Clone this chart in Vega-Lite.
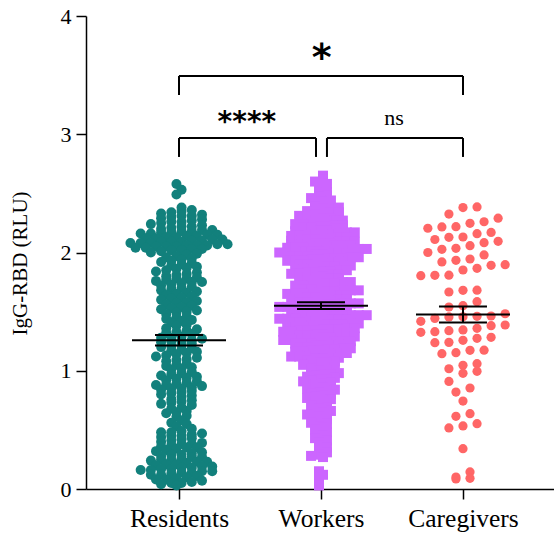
{
"$schema":"https://vega.github.io/schema/vega-lite/v6.json",
"width":468,"height":473,
"autosize":{"type":"none"},
"padding":{"left":86,"top":16,"right":0,"bottom":47},
"background":"white",
"datasets":{
"points":[
{"group":"Residents","value":2.58},{"group":"Residents","value":2.53},{"group":"Residents","value":2.49},
{"group":"Residents","value":2.38},{"group":"Residents","value":2.36},{"group":"Residents","value":2.35},{"group":"Residents","value":2.34},{"group":"Residents","value":2.33},{"group":"Residents","value":2.32},{"group":"Residents","value":2.31},{"group":"Residents","value":2.31},{"group":"Residents","value":2.30},
{"group":"Residents","value":2.29},{"group":"Residents","value":2.28},{"group":"Residents","value":2.27},{"group":"Residents","value":2.26},{"group":"Residents","value":2.26},{"group":"Residents","value":2.25},{"group":"Residents","value":2.24},{"group":"Residents","value":2.23},{"group":"Residents","value":2.22},{"group":"Residents","value":2.22},{"group":"Residents","value":2.21},{"group":"Residents","value":2.20},
{"group":"Residents","value":2.19},{"group":"Residents","value":2.19},{"group":"Residents","value":2.18},{"group":"Residents","value":2.18},{"group":"Residents","value":2.17},{"group":"Residents","value":2.17},{"group":"Residents","value":2.16},{"group":"Residents","value":2.16},{"group":"Residents","value":2.15},{"group":"Residents","value":2.15},{"group":"Residents","value":2.14},{"group":"Residents","value":2.14},{"group":"Residents","value":2.13},{"group":"Residents","value":2.13},{"group":"Residents","value":2.12},{"group":"Residents","value":2.12},{"group":"Residents","value":2.11},{"group":"Residents","value":2.11},{"group":"Residents","value":2.10},{"group":"Residents","value":2.10},
{"group":"Residents","value":2.09},{"group":"Residents","value":2.09},{"group":"Residents","value":2.09},{"group":"Residents","value":2.08},{"group":"Residents","value":2.08},{"group":"Residents","value":2.08},{"group":"Residents","value":2.07},{"group":"Residents","value":2.07},{"group":"Residents","value":2.06},{"group":"Residents","value":2.06},{"group":"Residents","value":2.06},{"group":"Residents","value":2.05},{"group":"Residents","value":2.05},{"group":"Residents","value":2.05},{"group":"Residents","value":2.04},{"group":"Residents","value":2.04},{"group":"Residents","value":2.03},{"group":"Residents","value":2.03},{"group":"Residents","value":2.02},{"group":"Residents","value":2.02},{"group":"Residents","value":2.01},{"group":"Residents","value":2.00},
{"group":"Residents","value":1.99},{"group":"Residents","value":1.98},{"group":"Residents","value":1.97},{"group":"Residents","value":1.96},{"group":"Residents","value":1.95},{"group":"Residents","value":1.94},{"group":"Residents","value":1.93},{"group":"Residents","value":1.92},{"group":"Residents","value":1.91},{"group":"Residents","value":1.90},
{"group":"Residents","value":1.89},{"group":"Residents","value":1.88},{"group":"Residents","value":1.87},{"group":"Residents","value":1.86},{"group":"Residents","value":1.85},{"group":"Residents","value":1.84},{"group":"Residents","value":1.83},{"group":"Residents","value":1.82},{"group":"Residents","value":1.81},{"group":"Residents","value":1.80},
{"group":"Residents","value":1.79},{"group":"Residents","value":1.78},{"group":"Residents","value":1.78},{"group":"Residents","value":1.77},{"group":"Residents","value":1.76},{"group":"Residents","value":1.75},{"group":"Residents","value":1.75},{"group":"Residents","value":1.74},{"group":"Residents","value":1.73},{"group":"Residents","value":1.72},{"group":"Residents","value":1.71},{"group":"Residents","value":1.70},
{"group":"Residents","value":1.69},{"group":"Residents","value":1.68},{"group":"Residents","value":1.67},{"group":"Residents","value":1.66},{"group":"Residents","value":1.65},{"group":"Residents","value":1.64},{"group":"Residents","value":1.63},{"group":"Residents","value":1.62},{"group":"Residents","value":1.61},{"group":"Residents","value":1.60},
{"group":"Residents","value":1.59},{"group":"Residents","value":1.58},{"group":"Residents","value":1.57},{"group":"Residents","value":1.56},{"group":"Residents","value":1.55},{"group":"Residents","value":1.54},{"group":"Residents","value":1.53},{"group":"Residents","value":1.52},{"group":"Residents","value":1.51},{"group":"Residents","value":1.50},
{"group":"Residents","value":1.49},{"group":"Residents","value":1.48},{"group":"Residents","value":1.46},{"group":"Residents","value":1.45},{"group":"Residents","value":1.44},{"group":"Residents","value":1.43},{"group":"Residents","value":1.42},{"group":"Residents","value":1.41},
{"group":"Residents","value":1.39},{"group":"Residents","value":1.38},{"group":"Residents","value":1.36},{"group":"Residents","value":1.35},{"group":"Residents","value":1.34},{"group":"Residents","value":1.33},{"group":"Residents","value":1.32},{"group":"Residents","value":1.31},
{"group":"Residents","value":1.29},{"group":"Residents","value":1.28},{"group":"Residents","value":1.28},{"group":"Residents","value":1.27},{"group":"Residents","value":1.26},{"group":"Residents","value":1.25},{"group":"Residents","value":1.25},{"group":"Residents","value":1.24},{"group":"Residents","value":1.23},{"group":"Residents","value":1.22},{"group":"Residents","value":1.21},{"group":"Residents","value":1.20},
{"group":"Residents","value":1.19},{"group":"Residents","value":1.18},{"group":"Residents","value":1.17},{"group":"Residents","value":1.16},{"group":"Residents","value":1.15},{"group":"Residents","value":1.14},{"group":"Residents","value":1.13},{"group":"Residents","value":1.12},{"group":"Residents","value":1.11},{"group":"Residents","value":1.10},
{"group":"Residents","value":1.09},{"group":"Residents","value":1.08},{"group":"Residents","value":1.06},{"group":"Residents","value":1.05},{"group":"Residents","value":1.04},{"group":"Residents","value":1.03},{"group":"Residents","value":1.02},{"group":"Residents","value":1.01},
{"group":"Residents","value":0.99},{"group":"Residents","value":0.98},{"group":"Residents","value":0.97},{"group":"Residents","value":0.96},{"group":"Residents","value":0.95},{"group":"Residents","value":0.94},{"group":"Residents","value":0.93},{"group":"Residents","value":0.92},{"group":"Residents","value":0.91},{"group":"Residents","value":0.90},
{"group":"Residents","value":0.89},{"group":"Residents","value":0.88},{"group":"Residents","value":0.88},{"group":"Residents","value":0.87},{"group":"Residents","value":0.86},{"group":"Residents","value":0.85},{"group":"Residents","value":0.85},{"group":"Residents","value":0.84},{"group":"Residents","value":0.83},{"group":"Residents","value":0.82},{"group":"Residents","value":0.81},{"group":"Residents","value":0.80},
{"group":"Residents","value":0.79},{"group":"Residents","value":0.78},{"group":"Residents","value":0.76},{"group":"Residents","value":0.75},{"group":"Residents","value":0.74},{"group":"Residents","value":0.73},{"group":"Residents","value":0.72},{"group":"Residents","value":0.71},
{"group":"Residents","value":0.69},{"group":"Residents","value":0.68},{"group":"Residents","value":0.66},{"group":"Residents","value":0.65},{"group":"Residents","value":0.64},{"group":"Residents","value":0.62},{"group":"Residents","value":0.61},
{"group":"Residents","value":0.58},{"group":"Residents","value":0.56},{"group":"Residents","value":0.55},{"group":"Residents","value":0.53},{"group":"Residents","value":0.51},
{"group":"Residents","value":0.49},{"group":"Residents","value":0.48},{"group":"Residents","value":0.48},{"group":"Residents","value":0.47},{"group":"Residents","value":0.46},{"group":"Residents","value":0.45},{"group":"Residents","value":0.45},{"group":"Residents","value":0.44},{"group":"Residents","value":0.43},{"group":"Residents","value":0.42},{"group":"Residents","value":0.41},{"group":"Residents","value":0.40},
{"group":"Residents","value":0.39},{"group":"Residents","value":0.38},{"group":"Residents","value":0.38},{"group":"Residents","value":0.37},{"group":"Residents","value":0.36},{"group":"Residents","value":0.35},{"group":"Residents","value":0.35},{"group":"Residents","value":0.34},{"group":"Residents","value":0.33},{"group":"Residents","value":0.32},{"group":"Residents","value":0.31},{"group":"Residents","value":0.30},
{"group":"Residents","value":0.29},{"group":"Residents","value":0.29},{"group":"Residents","value":0.28},{"group":"Residents","value":0.27},{"group":"Residents","value":0.27},{"group":"Residents","value":0.26},{"group":"Residents","value":0.25},{"group":"Residents","value":0.25},{"group":"Residents","value":0.24},{"group":"Residents","value":0.23},{"group":"Residents","value":0.23},{"group":"Residents","value":0.22},{"group":"Residents","value":0.21},{"group":"Residents","value":0.21},{"group":"Residents","value":0.20},
{"group":"Residents","value":0.19},{"group":"Residents","value":0.19},{"group":"Residents","value":0.18},{"group":"Residents","value":0.18},{"group":"Residents","value":0.17},{"group":"Residents","value":0.17},{"group":"Residents","value":0.16},{"group":"Residents","value":0.16},{"group":"Residents","value":0.15},{"group":"Residents","value":0.15},{"group":"Residents","value":0.14},{"group":"Residents","value":0.14},{"group":"Residents","value":0.13},{"group":"Residents","value":0.12},{"group":"Residents","value":0.12},{"group":"Residents","value":0.11},{"group":"Residents","value":0.10},
{"group":"Residents","value":0.09},{"group":"Residents","value":0.08},{"group":"Residents","value":0.08},{"group":"Residents","value":0.07},{"group":"Residents","value":0.06},{"group":"Residents","value":0.05},{"group":"Residents","value":0.05},{"group":"Residents","value":0.04},{"group":"Residents","value":0.03},
{"group":"Workers","value":2.65},{"group":"Workers","value":2.62},{"group":"Workers","value":2.60},
{"group":"Workers","value":2.58},{"group":"Workers","value":2.56},{"group":"Workers","value":2.54},{"group":"Workers","value":2.51},
{"group":"Workers","value":2.49},{"group":"Workers","value":2.48},{"group":"Workers","value":2.47},{"group":"Workers","value":2.46},{"group":"Workers","value":2.44},{"group":"Workers","value":2.43},{"group":"Workers","value":2.42},{"group":"Workers","value":2.41},
{"group":"Workers","value":2.39},{"group":"Workers","value":2.38},{"group":"Workers","value":2.38},{"group":"Workers","value":2.37},{"group":"Workers","value":2.36},{"group":"Workers","value":2.35},{"group":"Workers","value":2.34},{"group":"Workers","value":2.34},{"group":"Workers","value":2.33},{"group":"Workers","value":2.32},{"group":"Workers","value":2.31},{"group":"Workers","value":2.31},{"group":"Workers","value":2.30},
{"group":"Workers","value":2.29},{"group":"Workers","value":2.29},{"group":"Workers","value":2.28},{"group":"Workers","value":2.28},{"group":"Workers","value":2.27},{"group":"Workers","value":2.27},{"group":"Workers","value":2.26},{"group":"Workers","value":2.25},{"group":"Workers","value":2.25},{"group":"Workers","value":2.24},{"group":"Workers","value":2.24},{"group":"Workers","value":2.23},{"group":"Workers","value":2.23},{"group":"Workers","value":2.22},{"group":"Workers","value":2.22},{"group":"Workers","value":2.21},{"group":"Workers","value":2.21},{"group":"Workers","value":2.20},{"group":"Workers","value":2.20},
{"group":"Workers","value":2.19},{"group":"Workers","value":2.19},{"group":"Workers","value":2.18},{"group":"Workers","value":2.18},{"group":"Workers","value":2.18},{"group":"Workers","value":2.17},{"group":"Workers","value":2.17},{"group":"Workers","value":2.16},{"group":"Workers","value":2.16},{"group":"Workers","value":2.15},{"group":"Workers","value":2.15},{"group":"Workers","value":2.15},{"group":"Workers","value":2.14},{"group":"Workers","value":2.14},{"group":"Workers","value":2.13},{"group":"Workers","value":2.13},{"group":"Workers","value":2.12},{"group":"Workers","value":2.12},{"group":"Workers","value":2.11},{"group":"Workers","value":2.11},{"group":"Workers","value":2.10},{"group":"Workers","value":2.10},
{"group":"Workers","value":2.09},{"group":"Workers","value":2.09},{"group":"Workers","value":2.09},{"group":"Workers","value":2.08},{"group":"Workers","value":2.08},{"group":"Workers","value":2.08},{"group":"Workers","value":2.07},{"group":"Workers","value":2.07},{"group":"Workers","value":2.07},{"group":"Workers","value":2.06},{"group":"Workers","value":2.06},{"group":"Workers","value":2.06},{"group":"Workers","value":2.05},{"group":"Workers","value":2.05},{"group":"Workers","value":2.05},{"group":"Workers","value":2.04},{"group":"Workers","value":2.04},{"group":"Workers","value":2.04},{"group":"Workers","value":2.03},{"group":"Workers","value":2.03},{"group":"Workers","value":2.03},{"group":"Workers","value":2.02},{"group":"Workers","value":2.02},{"group":"Workers","value":2.02},{"group":"Workers","value":2.01},{"group":"Workers","value":2.01},{"group":"Workers","value":2.01},{"group":"Workers","value":2.00},{"group":"Workers","value":2.00},{"group":"Workers","value":2.00},
{"group":"Workers","value":1.99},{"group":"Workers","value":1.99},{"group":"Workers","value":1.99},{"group":"Workers","value":1.98},{"group":"Workers","value":1.98},{"group":"Workers","value":1.97},{"group":"Workers","value":1.97},{"group":"Workers","value":1.97},{"group":"Workers","value":1.96},{"group":"Workers","value":1.96},{"group":"Workers","value":1.95},{"group":"Workers","value":1.95},{"group":"Workers","value":1.95},{"group":"Workers","value":1.94},{"group":"Workers","value":1.94},{"group":"Workers","value":1.93},{"group":"Workers","value":1.93},{"group":"Workers","value":1.93},{"group":"Workers","value":1.92},{"group":"Workers","value":1.92},{"group":"Workers","value":1.91},{"group":"Workers","value":1.91},{"group":"Workers","value":1.90},{"group":"Workers","value":1.90},
{"group":"Workers","value":1.89},{"group":"Workers","value":1.89},{"group":"Workers","value":1.88},{"group":"Workers","value":1.88},{"group":"Workers","value":1.87},{"group":"Workers","value":1.87},{"group":"Workers","value":1.86},{"group":"Workers","value":1.86},{"group":"Workers","value":1.85},{"group":"Workers","value":1.85},{"group":"Workers","value":1.84},{"group":"Workers","value":1.84},{"group":"Workers","value":1.83},{"group":"Workers","value":1.83},{"group":"Workers","value":1.82},{"group":"Workers","value":1.82},{"group":"Workers","value":1.81},{"group":"Workers","value":1.81},{"group":"Workers","value":1.80},
{"group":"Workers","value":1.79},{"group":"Workers","value":1.79},{"group":"Workers","value":1.78},{"group":"Workers","value":1.78},{"group":"Workers","value":1.77},{"group":"Workers","value":1.77},{"group":"Workers","value":1.76},{"group":"Workers","value":1.76},{"group":"Workers","value":1.75},{"group":"Workers","value":1.75},{"group":"Workers","value":1.74},{"group":"Workers","value":1.74},{"group":"Workers","value":1.73},{"group":"Workers","value":1.73},{"group":"Workers","value":1.72},{"group":"Workers","value":1.72},{"group":"Workers","value":1.71},{"group":"Workers","value":1.71},{"group":"Workers","value":1.70},
{"group":"Workers","value":1.69},{"group":"Workers","value":1.69},{"group":"Workers","value":1.68},{"group":"Workers","value":1.68},{"group":"Workers","value":1.68},{"group":"Workers","value":1.67},{"group":"Workers","value":1.67},{"group":"Workers","value":1.66},{"group":"Workers","value":1.66},{"group":"Workers","value":1.65},{"group":"Workers","value":1.65},{"group":"Workers","value":1.65},{"group":"Workers","value":1.64},{"group":"Workers","value":1.64},{"group":"Workers","value":1.63},{"group":"Workers","value":1.63},{"group":"Workers","value":1.62},{"group":"Workers","value":1.62},{"group":"Workers","value":1.61},{"group":"Workers","value":1.61},{"group":"Workers","value":1.60},{"group":"Workers","value":1.60},
{"group":"Workers","value":1.59},{"group":"Workers","value":1.59},{"group":"Workers","value":1.59},{"group":"Workers","value":1.58},{"group":"Workers","value":1.58},{"group":"Workers","value":1.57},{"group":"Workers","value":1.57},{"group":"Workers","value":1.57},{"group":"Workers","value":1.56},{"group":"Workers","value":1.56},{"group":"Workers","value":1.55},{"group":"Workers","value":1.55},{"group":"Workers","value":1.55},{"group":"Workers","value":1.54},{"group":"Workers","value":1.54},{"group":"Workers","value":1.54},{"group":"Workers","value":1.53},{"group":"Workers","value":1.53},{"group":"Workers","value":1.52},{"group":"Workers","value":1.52},{"group":"Workers","value":1.52},{"group":"Workers","value":1.51},{"group":"Workers","value":1.51},{"group":"Workers","value":1.50},{"group":"Workers","value":1.50},
{"group":"Workers","value":1.49},{"group":"Workers","value":1.49},{"group":"Workers","value":1.49},{"group":"Workers","value":1.48},{"group":"Workers","value":1.48},{"group":"Workers","value":1.48},{"group":"Workers","value":1.47},{"group":"Workers","value":1.47},{"group":"Workers","value":1.47},{"group":"Workers","value":1.46},{"group":"Workers","value":1.46},{"group":"Workers","value":1.46},{"group":"Workers","value":1.45},{"group":"Workers","value":1.45},{"group":"Workers","value":1.45},{"group":"Workers","value":1.44},{"group":"Workers","value":1.44},{"group":"Workers","value":1.44},{"group":"Workers","value":1.43},{"group":"Workers","value":1.43},{"group":"Workers","value":1.43},{"group":"Workers","value":1.42},{"group":"Workers","value":1.42},{"group":"Workers","value":1.42},{"group":"Workers","value":1.41},{"group":"Workers","value":1.41},{"group":"Workers","value":1.40},{"group":"Workers","value":1.40},
{"group":"Workers","value":1.39},{"group":"Workers","value":1.39},{"group":"Workers","value":1.39},{"group":"Workers","value":1.38},{"group":"Workers","value":1.38},{"group":"Workers","value":1.37},{"group":"Workers","value":1.37},{"group":"Workers","value":1.37},{"group":"Workers","value":1.36},{"group":"Workers","value":1.36},{"group":"Workers","value":1.35},{"group":"Workers","value":1.35},{"group":"Workers","value":1.35},{"group":"Workers","value":1.34},{"group":"Workers","value":1.34},{"group":"Workers","value":1.34},{"group":"Workers","value":1.33},{"group":"Workers","value":1.33},{"group":"Workers","value":1.32},{"group":"Workers","value":1.32},{"group":"Workers","value":1.32},{"group":"Workers","value":1.31},{"group":"Workers","value":1.31},{"group":"Workers","value":1.30},{"group":"Workers","value":1.30},
{"group":"Workers","value":1.29},{"group":"Workers","value":1.29},{"group":"Workers","value":1.29},{"group":"Workers","value":1.28},{"group":"Workers","value":1.28},{"group":"Workers","value":1.27},{"group":"Workers","value":1.27},{"group":"Workers","value":1.27},{"group":"Workers","value":1.26},{"group":"Workers","value":1.26},{"group":"Workers","value":1.25},{"group":"Workers","value":1.25},{"group":"Workers","value":1.25},{"group":"Workers","value":1.24},{"group":"Workers","value":1.24},{"group":"Workers","value":1.23},{"group":"Workers","value":1.23},{"group":"Workers","value":1.23},{"group":"Workers","value":1.22},{"group":"Workers","value":1.22},{"group":"Workers","value":1.21},{"group":"Workers","value":1.21},{"group":"Workers","value":1.20},{"group":"Workers","value":1.20},
{"group":"Workers","value":1.19},{"group":"Workers","value":1.19},{"group":"Workers","value":1.18},{"group":"Workers","value":1.18},{"group":"Workers","value":1.17},{"group":"Workers","value":1.17},{"group":"Workers","value":1.16},{"group":"Workers","value":1.16},{"group":"Workers","value":1.15},{"group":"Workers","value":1.15},{"group":"Workers","value":1.14},{"group":"Workers","value":1.14},{"group":"Workers","value":1.13},{"group":"Workers","value":1.13},{"group":"Workers","value":1.12},{"group":"Workers","value":1.12},{"group":"Workers","value":1.11},{"group":"Workers","value":1.11},{"group":"Workers","value":1.10},{"group":"Workers","value":1.10},
{"group":"Workers","value":1.09},{"group":"Workers","value":1.08},{"group":"Workers","value":1.07},{"group":"Workers","value":1.07},{"group":"Workers","value":1.06},{"group":"Workers","value":1.05},{"group":"Workers","value":1.04},{"group":"Workers","value":1.04},{"group":"Workers","value":1.03},{"group":"Workers","value":1.02},{"group":"Workers","value":1.01},{"group":"Workers","value":1.00},
{"group":"Workers","value":0.99},{"group":"Workers","value":0.98},{"group":"Workers","value":0.97},{"group":"Workers","value":0.97},{"group":"Workers","value":0.96},{"group":"Workers","value":0.95},{"group":"Workers","value":0.94},{"group":"Workers","value":0.93},{"group":"Workers","value":0.93},{"group":"Workers","value":0.92},{"group":"Workers","value":0.91},{"group":"Workers","value":0.90},
{"group":"Workers","value":0.89},{"group":"Workers","value":0.88},{"group":"Workers","value":0.87},{"group":"Workers","value":0.86},{"group":"Workers","value":0.85},{"group":"Workers","value":0.85},{"group":"Workers","value":0.84},{"group":"Workers","value":0.83},{"group":"Workers","value":0.82},{"group":"Workers","value":0.81},{"group":"Workers","value":0.80},
{"group":"Workers","value":0.79},{"group":"Workers","value":0.78},{"group":"Workers","value":0.77},{"group":"Workers","value":0.76},{"group":"Workers","value":0.75},{"group":"Workers","value":0.74},{"group":"Workers","value":0.73},{"group":"Workers","value":0.72},{"group":"Workers","value":0.71},
{"group":"Workers","value":0.69},{"group":"Workers","value":0.68},{"group":"Workers","value":0.66},{"group":"Workers","value":0.65},{"group":"Workers","value":0.64},{"group":"Workers","value":0.63},{"group":"Workers","value":0.62},{"group":"Workers","value":0.61},
{"group":"Workers","value":0.59},{"group":"Workers","value":0.57},{"group":"Workers","value":0.56},{"group":"Workers","value":0.55},{"group":"Workers","value":0.53},{"group":"Workers","value":0.52},{"group":"Workers","value":0.50},
{"group":"Workers","value":0.48},{"group":"Workers","value":0.46},{"group":"Workers","value":0.45},{"group":"Workers","value":0.43},{"group":"Workers","value":0.41},
{"group":"Workers","value":0.39},{"group":"Workers","value":0.37},{"group":"Workers","value":0.35},{"group":"Workers","value":0.33},{"group":"Workers","value":0.31},
{"group":"Workers","value":0.29},{"group":"Workers","value":0.28},{"group":"Workers","value":0.27},
{"group":"Workers","value":0.15},{"group":"Workers","value":0.12},
{"group":"Workers","value":0.07},{"group":"Workers","value":0.03},
{"group":"Caregivers","value":2.38},{"group":"Caregivers","value":2.385},{"group":"Caregivers","value":2.325},{"group":"Caregivers","value":2.29},{"group":"Caregivers","value":2.247},{"group":"Caregivers","value":2.26},{"group":"Caregivers","value":2.205},{"group":"Caregivers","value":2.218},{"group":"Caregivers","value":2.216},{"group":"Caregivers","value":2.159},
{"group":"Caregivers","value":2.17},{"group":"Caregivers","value":2.131},{"group":"Caregivers","value":2.128},{"group":"Caregivers","value":2.095},{"group":"Caregivers","value":2.11},{"group":"Caregivers","value":2.083},{"group":"Caregivers","value":2.058},{"group":"Caregivers","value":2.027},{"group":"Caregivers","value":2.035},{"group":"Caregivers","value":2.0},
{"group":"Caregivers","value":1.979},{"group":"Caregivers","value":1.945},{"group":"Caregivers","value":1.934},{"group":"Caregivers","value":1.892},{"group":"Caregivers","value":1.897},{"group":"Caregivers","value":1.92},{"group":"Caregivers","value":1.852},{"group":"Caregivers","value":1.866},{"group":"Caregivers","value":1.807},{"group":"Caregivers","value":1.808},
{"group":"Caregivers","value":1.804},{"group":"Caregivers","value":1.68},{"group":"Caregivers","value":1.666},{"group":"Caregivers","value":1.681},{"group":"Caregivers","value":1.584},{"group":"Caregivers","value":1.55},{"group":"Caregivers","value":1.539},{"group":"Caregivers","value":1.455},{"group":"Caregivers","value":1.418},{"group":"Caregivers","value":1.456},
{"group":"Caregivers","value":1.482},{"group":"Caregivers","value":1.46},{"group":"Caregivers","value":1.443},{"group":"Caregivers","value":1.463},{"group":"Caregivers","value":1.387},{"group":"Caregivers","value":1.359},{"group":"Caregivers","value":1.381},{"group":"Caregivers","value":1.33},{"group":"Caregivers","value":1.339},{"group":"Caregivers","value":1.325},
{"group":"Caregivers","value":1.345},{"group":"Caregivers","value":1.237},{"group":"Caregivers","value":1.257},{"group":"Caregivers","value":1.283},{"group":"Caregivers","value":1.274},{"group":"Caregivers","value":1.24},{"group":"Caregivers","value":1.173},{"group":"Caregivers","value":1.174},{"group":"Caregivers","value":1.153},{"group":"Caregivers","value":1.144},
{"group":"Caregivers","value":1.06},{"group":"Caregivers","value":1.046},{"group":"Caregivers","value":0.995},{"group":"Caregivers","value":1.017},{"group":"Caregivers","value":0.978},{"group":"Caregivers","value":0.91},{"group":"Caregivers","value":0.82},{"group":"Caregivers","value":0.854},{"group":"Caregivers","value":0.744},{"group":"Caregivers","value":0.637},
{"group":"Caregivers","value":0.615},{"group":"Caregivers","value":0.552},{"group":"Caregivers","value":0.516},{"group":"Caregivers","value":0.533},{"group":"Caregivers","value":0.341},{"group":"Caregivers","value":0.085},{"group":"Caregivers","value":0.144},{"group":"Caregivers","value":0.09},{"group":"Caregivers","value":0.101}
],
"brackets":[
{"x":1,"x2":3,"y":3.493,"y2":3.493},{"x":1,"x2":1,"y":3.493,"y2":3.332},{"x":3,"x2":3,"y":3.493,"y2":3.332},
{"x":1,"x2":1.965,"y":2.968,"y2":2.968},{"x":1,"x2":1,"y":2.968,"y2":2.808},{"x":1.965,"x2":1.965,"y":2.968,"y2":2.808},
{"x":2.042,"x2":3,"y":2.968,"y2":2.968},{"x":2.042,"x2":2.042,"y":2.968,"y2":2.808},{"x":3,"x2":3,"y":2.968,"y2":2.808}
]
},
"layer":[
{
"data":{"name":"points"},
"transform":[
{"calculate":"indexof(['Residents','Workers','Caregivers'], datum.group) + 1","as":"gi"},
{"calculate":"floor(datum.value / (datum.group === 'Caregivers' ? 0.1 : datum.group === 'Residents' ? 0.04 : 0.035))","as":"bin"},
{"joinaggregate":[{"op":"count","as":"n"}],"groupby":["group","bin"]},
{"window":[{"op":"row_number","as":"r"}],"sort":[{"field":"value","order":"ascending"}],"groupby":["group","bin"]},
{"calculate":"datum.gi + (datum.r - (datum.n + 1) / 2 + (datum.group === 'Caregivers' ? 0 : (datum.bin % 2 === 0 ? -0.25 : 0.25))) * (datum.group === 'Residents' ? 0.072 : datum.group === 'Workers' ? 0.056 : 0.099)","as":"xpos"}
],
"mark":{"type":"point","filled":true,"opacity":1,"strokeWidth":0},
"encoding":{
"x":{"field":"xpos","type":"quantitative","scale":{"domain":[0.345,3.641],"nice":false,"zero":false},
"axis":{"values":[1,2,3],"labelExpr":"datum.value == 1 ? 'Residents' : datum.value == 2 ? 'Workers' : 'Caregivers'","title":null,"tickSize":10,"labelFontSize":25.5,"labelPadding":7,"labelFlush":false,"labelOverlap":false,"labelBound":false}},
"y":{"field":"value","type":"quantitative","scale":{"domain":[0,4],"nice":false,"zero":false},
"axis":{"values":[0,1,2,3,4],"format":"d","title":"IgG-RBD (RLU)","titleFontSize":21,"titleFontWeight":"normal","labelFontSize":22,"tickSize":10,"labelPadding":5,"labelFlush":false,"titleX":-56,"titleY":247}},
"color":{"field":"group","type":"nominal","scale":{"domain":["Residents","Workers","Caregivers"],"range":["#12807C","#CC66FF","#FF6666"]},"legend":null},
"shape":{"condition":{"test":"datum.group === 'Workers'","value":"square"},"value":"circle"},
"size":{"condition":{"test":"datum.group === 'Caregivers'","value":85},"value":100}
}
},
{
"data":{"name":"points"},
"transform":[
{"aggregate":[{"op":"mean","field":"value","as":"mean"},{"op":"stderr","field":"value","as":"se"}],"groupby":["group"]},
{"calculate":"indexof(['Residents','Workers','Caregivers'], datum.group) + 1","as":"gi"},
{"calculate":"datum.mean - datum.se","as":"lo"},
{"calculate":"datum.mean + datum.se","as":"hi"}
],
"layer":[
{"mark":{"type":"rule","color":"black","strokeWidth":2},
"encoding":{"x":{"field":"gi","type":"quantitative","scale":{"domain":[0.345,3.641],"nice":false,"zero":false}},
"y":{"field":"lo","type":"quantitative","scale":{"domain":[0,4],"nice":false,"zero":false}},"y2":{"field":"hi"}}},
{"mark":{"type":"tick","orient":"horizontal","size":94,"thickness":2,"color":"black","opacity":1},
"encoding":{"x":{"field":"gi","type":"quantitative","scale":{"domain":[0.345,3.641],"nice":false,"zero":false}},
"y":{"field":"mean","type":"quantitative","scale":{"domain":[0,4],"nice":false,"zero":false}}}},
{"transform":[{"fold":["lo","hi"],"as":["k","v"]}],
"mark":{"type":"tick","orient":"horizontal","size":48,"thickness":2,"color":"black","opacity":1},
"encoding":{"x":{"field":"gi","type":"quantitative","scale":{"domain":[0.345,3.641],"nice":false,"zero":false}},
"y":{"field":"v","type":"quantitative","scale":{"domain":[0,4],"nice":false,"zero":false}}}}
]
},
{
"data":{"name":"brackets"},
"mark":{"type":"rule","color":"black","strokeWidth":2},
"encoding":{"x":{"field":"x","type":"quantitative","scale":{"domain":[0.345,3.641],"nice":false,"zero":false}},"x2":{"field":"x2"},
"y":{"field":"y","type":"quantitative","scale":{"domain":[0,4],"nice":false,"zero":false}},"y2":{"field":"y2"}}
},
{
"data":{"values":[{"label":"*","x":2.005,"y":3.545}]},
"mark":{"type":"text","font":"DejaVu Sans","fontWeight":"bold","fontSize":38,"align":"center","baseline":"alphabetic","color":"black"},
"encoding":{"x":{"field":"x","type":"quantitative","scale":{"domain":[0.345,3.641],"nice":false,"zero":false}},
"y":{"field":"y","type":"quantitative","scale":{"domain":[0,4],"nice":false,"zero":false}},"text":{"field":"label"}}
},
{
"data":{"values":[{"label":"****","x":1.478,"y":3.03}]},
"mark":{"type":"text","font":"DejaVu Sans","fontWeight":"bold","fontSize":28,"align":"center","baseline":"alphabetic","color":"black"},
"encoding":{"x":{"field":"x","type":"quantitative","scale":{"domain":[0.345,3.641],"nice":false,"zero":false}},
"y":{"field":"y","type":"quantitative","scale":{"domain":[0,4],"nice":false,"zero":false}},"text":{"field":"label"}}
},
{
"data":{"values":[{"label":"ns","x":2.515,"y":3.078}]},
"mark":{"type":"text","font":"Liberation Serif","fontSize":22,"align":"center","baseline":"alphabetic","color":"black"},
"encoding":{"x":{"field":"x","type":"quantitative","scale":{"domain":[0.345,3.641],"nice":false,"zero":false}},
"y":{"field":"y","type":"quantitative","scale":{"domain":[0,4],"nice":false,"zero":false}},"text":{"field":"label"}}
}
],
"config":{"view":{"stroke":null},
"axis":{"grid":false,"domainColor":"black","tickColor":"black","labelColor":"black","titleColor":"black","labelFont":"Liberation Serif","titleFont":"Liberation Serif","domainWidth":1.5,"tickWidth":1.5}}
}
